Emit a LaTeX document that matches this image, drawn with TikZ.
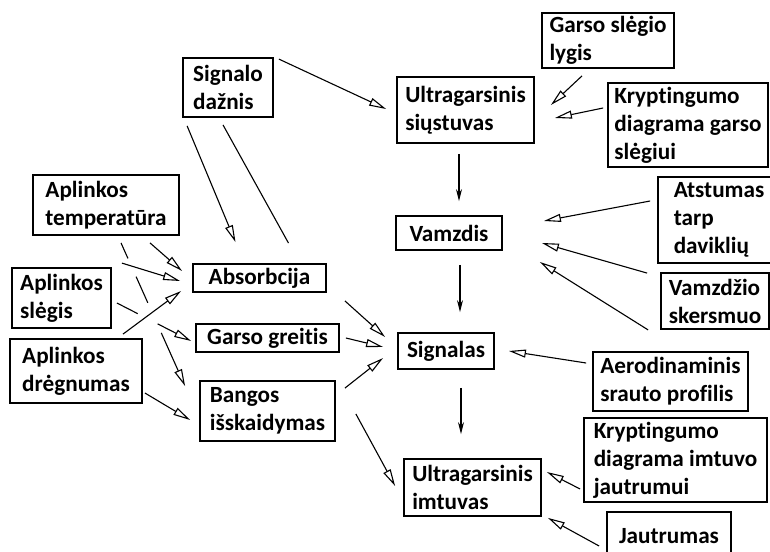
\documentclass[tikz,border=0pt]{standalone}
\usepackage{fontspec}
\setmainfont{Carlito}[Ligatures=NoCommon]
\usepackage{tikz}
\usetikzlibrary{
    arrows.meta,
    positioning,
    calc
}
\tikzset{
  box/.style  = {draw, line width=0.9pt, align=left, inner sep=0pt,
                 font=\fontsize{11.6}{14}\selectfont\bfseries},
  arr/.style  = {-{Triangle[open,length=8.5pt,width=4pt]}, line width=0.55pt},
  arrf/.style = {-{Stealth[length=6pt,width=3pt]}, line width=0.55pt},
  ln/.style   = {line width=0.55pt}
}

\begin{document}
\begin{tikzpicture}[x=0.5pt, y=-0.5pt]
\useasboundingbox (0,0) rectangle (770,551);
\clip (0,0) rectangle (770,551);
\node[box,minimum width=45pt,minimum height=29.5pt] (freq) at (228,87.5) {Signalo\\dažnis};
\node[box,minimum width=68.5pt,minimum height=33pt] (tx) at (465.5,110) {Ultragarsinis\\siųstuvas};
\node[box,minimum width=66pt,minimum height=27.5pt] (spl) at (608,40.5) {Garso slėgio\\lygis};
\node[box,minimum width=80pt,minimum height=42pt] (dirtx) at (688,125) {Kryptingumo\\diagrama garso\\slėgiui};
\node[box,minimum width=53pt,minimum height=17pt] (pipe) at (449,233) {Vamzdis};
\node[box,minimum width=61pt,minimum height=43pt] (dist) at (719,220) {Atstumas\\tarp\\daviklių};
\node[box,minimum width=54pt,minimum height=28pt] (diam) at (715,301) {Vamzdžio\\skersmuo};
\node[box,minimum width=48pt,minimum height=18pt] (sig) at (446,351) {Signalas};
\node[box,minimum width=77.5pt,minimum height=29.5pt] (flow) at (670.5,381.5) {Aerodinaminis\\srauto profilis};
\node[box,minimum width=91.5pt,minimum height=42pt] (dirrx) at (675.5,460) {Kryptingumo\\diagrama imtuvo\\jautrumui};
\node[box,minimum width=68.5pt,minimum height=28.5pt] (rx) at (472.5,487.5) {Ultragarsinis\\imtuvas};
\node[box,minimum width=62pt,minimum height=24pt] (sens) at (669,536) {Jautrumas};
\node[box,minimum width=73pt,minimum height=30pt] (temp) at (106,205) {Aplinkos\\temperatūra};
\node[box,minimum width=66.5pt,minimum height=14pt] (abs) at (259.5,278) {Absorbcija};
\node[box,minimum width=49.5pt,minimum height=30pt] (pres) at (61.5,298) {Aplinkos\\slėgis};
\node[box,minimum width=66pt,minimum height=32pt] (hum) at (76,371) {Aplinkos\\drėgnumas};
\node[box,minimum width=71.5pt,minimum height=14pt] (speed) at (267.5,338) {Garso greitis};
\node[box,minimum width=67.5pt,minimum height=30pt] (disp) at (267.5,411) {Bangos\\išskaidymas};
\draw[arr] ([shift={(5,2)}]freq.north east) -- ([shift={(-10,-1)}]tx.west);
\draw[arr] ([shift={(5,8)}]freq.south west) -- ([shift={(-24,-21)}]abs.north);
\draw[ln] ([shift={(-5,7)}]freq.south) -- ([shift={(29,-20)}]abs.north);
\draw[arr] ([shift={(-26,7)}]spl.south) -- ([shift={(16,-5)}]tx.east);
\draw[arr] ([shift={(-4,-17)}]dirtx.west) -- ([shift={(20,8)}]tx.east);
\draw[arrf] ([shift={(-6.5,10)}]tx.south) -- ([shift={(10,-14)}]pipe.north);
\draw[arr] ([shift={(-7,-19)}]dist.west) -- ([shift={(41,-12)}]pipe.east);
\draw[arr] ([shift={(-13,1)}]diam.north west) -- ([shift={(39,10)}]pipe.east);
\draw[arr] ([shift={(-12,0)}]diam.south west) -- ([shift={(37,29)}]pipe.east);
\draw[arrf] ([shift={(11,14)}]pipe.south) -- ([shift={(14,-20)}]sig.north);
\draw[arr] ([shift={(-6,-18.5)}]flow.west) -- ([shift={(14,0)}]sig.east);
\draw[arrf] ([shift={(15,18)}]sig.south) -- ([shift={(-11.5,-24)}]rx.north);
\draw[arr] ([shift={(-3,29)}]dirrx.west) -- ([shift={(5,-15.5)}]rx.east);
\draw[arr] ([shift={(-7,10)}]sens.west) -- ([shift={(6,1)}]rx.south east);
\draw[arr] ([shift={(18,8)}]abs.south east) -- ([shift={(-12,-14)}]sig.west);
\draw[arr] ([shift={(6,0)}]speed.east) -- ([shift={(-14,-4)}]sig.west);
\draw[arr] ([shift={(9,8)}]disp.north east) -- ([shift={(-14,7)}]sig.west);
\draw[arr] ([shift={(20,3)}]disp.east) -- ([shift={(-8,-1.5)}]rx.west);
\draw[arr] ([shift={(2,22)}]hum.east) -- ([shift={(-9,9)}]disp.west);
\draw[arr] ([shift={(47,-4)}]hum.north) -- ([shift={(-11,13)}]abs.west);
\draw[arr] ([shift={(44,7)}]temp.south) -- ([shift={(-10,-7)}]abs.west);
\draw[arr,dash pattern=on 8.5pt off 10pt on 14.3pt off 16.5pt on 60pt] ([shift={(15,7)}]temp.south) -- ([shift={(-14,6)}]disp.north west);
\draw[arr] ([shift={(10,-4)}]pres.north east) -- ([shift={(-12,3)}]abs.west);
\draw[arr,dash pattern=on 11.7pt off 11.2pt on 40pt] ([shift={(5,5)}]pres.east) -- ([shift={(-4,3)}]speed.west);
\end{tikzpicture}
\end{document}
